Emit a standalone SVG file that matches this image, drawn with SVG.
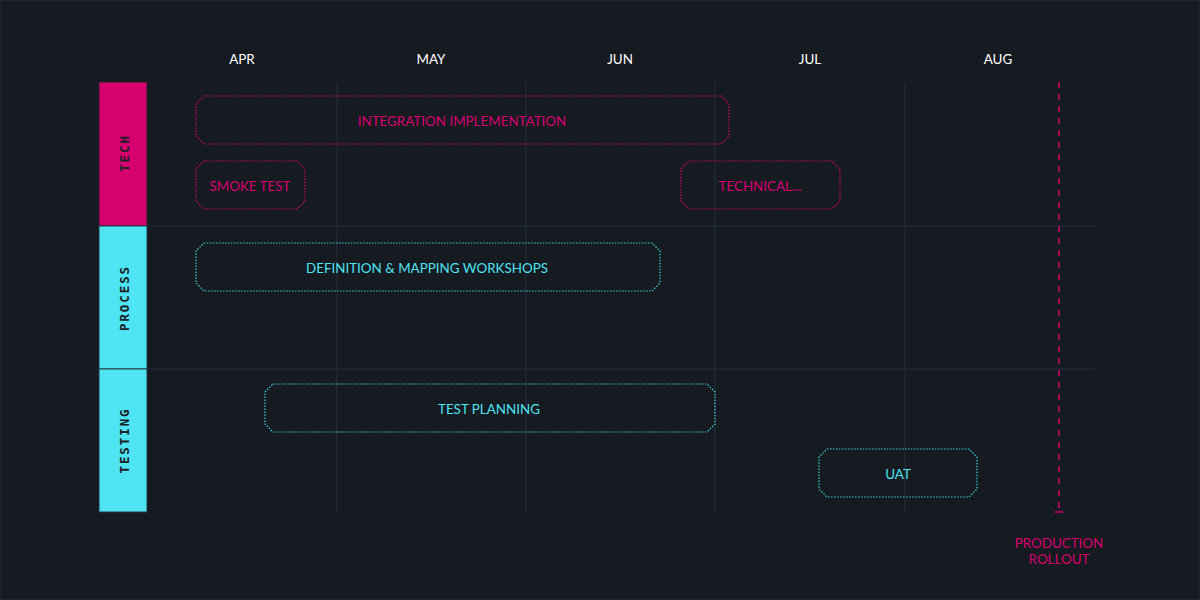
<svg xmlns="http://www.w3.org/2000/svg" width="1200" height="600" viewBox="0 0 1200 600">
<style>
.bg{fill:#161a21}
.grid{stroke:#212834;stroke-width:1.5;fill:none}
.month{font-family:Lato,"Liberation Sans",sans-serif;font-size:13.4px;fill:#ffffff;text-anchor:middle}
.lane{font-family:"DejaVu Sans Mono","Liberation Mono",monospace;font-weight:bold;font-size:12.5px;letter-spacing:1.9px;fill:#1c2128;text-anchor:middle}
.boxm{fill:none;stroke:#d0066f;stroke-width:1.2;stroke-dasharray:1.5 1.5}
.boxc{fill:none;stroke:#3fd2e0;stroke-width:1.2;stroke-dasharray:1.5 1.5}
.tm{font-family:Lato,"Liberation Sans",sans-serif;font-size:13.4px;fill:#d6006f;text-anchor:middle}
.tc{font-family:Lato,"Liberation Sans",sans-serif;font-size:13.4px;fill:#4ee4f2;text-anchor:middle}
</style>
<rect class="bg" x="0" y="0" width="1200" height="600"/>
<rect x="0.5" y="0.5" width="1199" height="599" fill="none" stroke="#20252d"/>
<g id="grid">
<line class="grid" x1="337" y1="82" x2="337" y2="512"/>
<line class="grid" x1="526" y1="82" x2="526" y2="512"/>
<line class="grid" x1="715" y1="82" x2="715" y2="512"/>
<line class="grid" x1="905" y1="82" x2="905" y2="512"/>
<line class="grid" x1="147" y1="226" x2="1095" y2="226"/>
<line class="grid" x1="147" y1="369" x2="1095" y2="369"/>
</g>
<g id="months">
<text class="month" x="242" y="64">APR</text>
<text class="month" x="431" y="64">MAY</text>
<text class="month" x="620" y="64">JUN</text>
<text class="month" x="810" y="64">JUL</text>
<text class="month" x="998" y="64">AUG</text>
</g>
<g id="lane-tech">
<rect x="99" y="82" width="48" height="144" fill="#d6006f" stroke="#2a1f2a" stroke-width="1"/>
<text class="lane" transform="translate(128.5,153) rotate(-90)">TECH</text>
</g>
<g id="lane-process">
<rect x="99" y="226" width="48" height="143" fill="#4ee4f2" stroke="#1f3a44" stroke-width="1"/>
<text class="lane" transform="translate(128.5,298) rotate(-90)">PROCESS</text>
</g>
<g id="lane-testing">
<rect x="99" y="369" width="48" height="143" fill="#4ee4f2" stroke="#1f3a44" stroke-width="1"/>
<text class="lane" transform="translate(128.5,440.5) rotate(-90)">TESTING</text>
</g>
<g id="connectors">
<line x1="1059" y1="82" x2="1059" y2="512" stroke="#d6006f" stroke-width="1.5" stroke-dasharray="6 6"/>
<line x1="1055" y1="512" x2="1063" y2="512" stroke="#d6006f" stroke-width="1.5"/>
</g>
<g id="node-integration">
<path class="boxm" d="M204,96 H721 L729,104 V136 L721,144 H204 L196,136 V104 Z"/>
<text class="tm" x="462" y="125.5">INTEGRATION IMPLEMENTATION</text>
</g>
<g id="node-smoke">
<path class="boxm" d="M204,161 H297 L305,169 V201 L297,209 H204 L196,201 V169 Z"/>
<text class="tm" x="250" y="190.5">SMOKE TEST</text>
</g>
<g id="node-technical">
<path class="boxm" d="M689,161 H832 L840,169 V201 L832,209 H689 L681,201 V169 Z"/>
<text class="tm" x="760" y="190.5">TECHNICAL...</text>
</g>
<g id="node-definition">
<path class="boxc" d="M204,243 H652 L660,251 V283 L652,291 H204 L196,283 V251 Z"/>
<text class="tc" x="427" y="272.5">DEFINITION &amp; MAPPING WORKSHOPS</text>
</g>
<g id="node-testplanning">
<path class="boxc" d="M273,384 H707 L715,392 V424 L707,432 H273 L265,424 V392 Z"/>
<text class="tc" x="489" y="413.5">TEST PLANNING</text>
</g>
<g id="node-uat">
<path class="boxc" d="M827,449 H969 L977,457 V489 L969,497 H827 L819,489 V457 Z"/>
<text class="tc" x="898" y="478.5">UAT</text>
</g>
<g id="milestone">
<text class="tm" x="1059" y="547.5">PRODUCTION</text>
<text class="tm" x="1059" y="563.5">ROLLOUT</text>
</g>
</svg>
